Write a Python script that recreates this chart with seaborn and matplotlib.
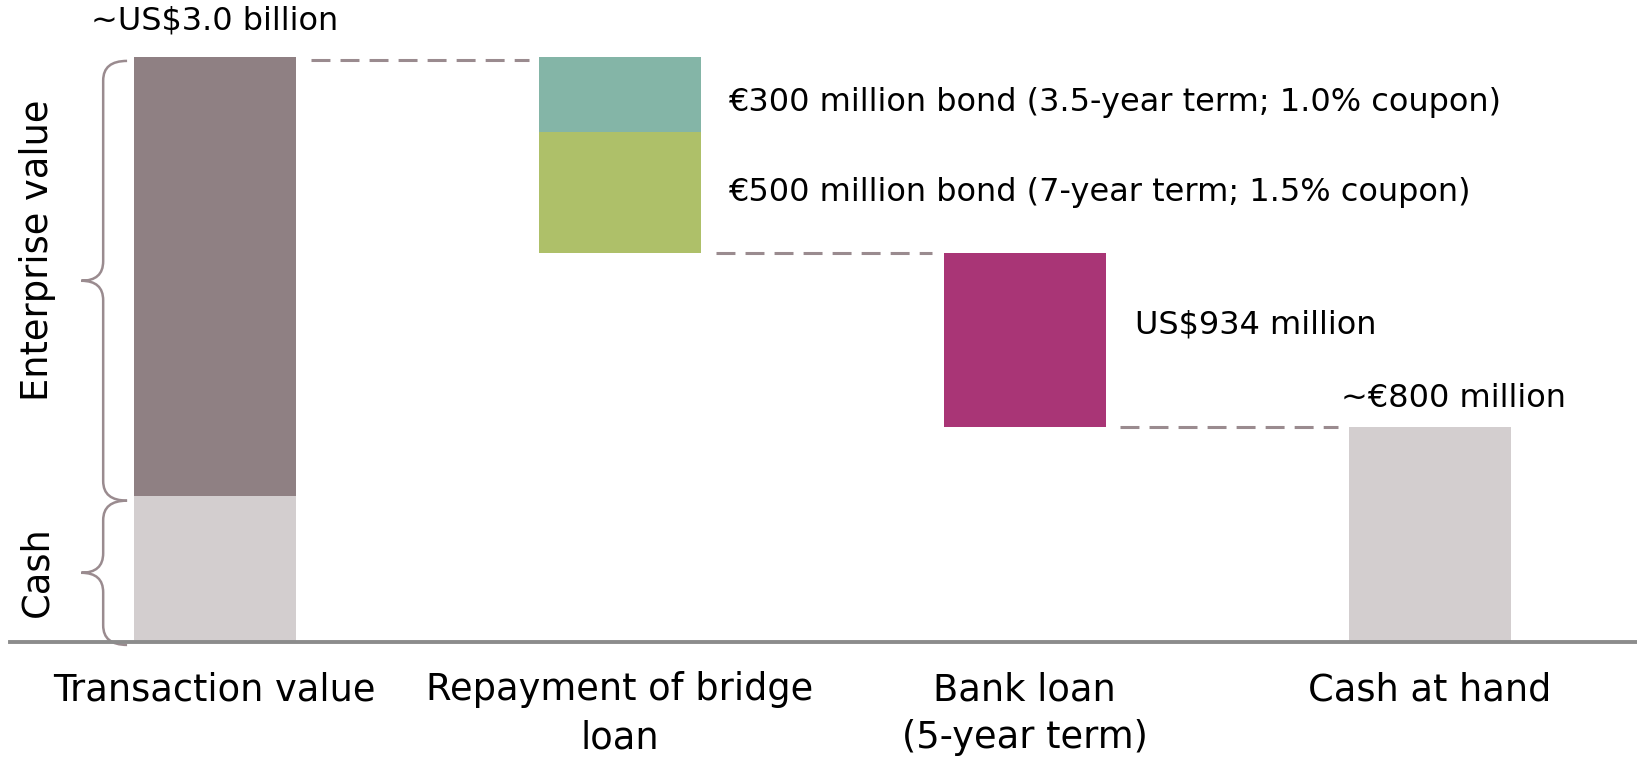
import matplotlib
matplotlib.use("Agg")
import matplotlib.pyplot as plt
from matplotlib.path import Path
from matplotlib.patches import PathPatch
import seaborn as sns
import pandas as pd

# ---------------- data ----------------
categories = ["Transaction value", "Repayment of bridge\nloan",
              "Bank loan\n(5-year term)", "Cash at hand"]
transaction_total = 3000     # ~US$3.0 billion (US$ m)
transaction_cash = 750       # cash part of transaction value
bond_300 = 385               # €300 million bond
bond_500 = 620               # €500 million bond
bank_loan = 890              # US$934 million
cash_at_hand = transaction_total - bond_300 - bond_500 - bank_loan  # ~€800 million

label_total = "~US$3.0 billion"
label_bond_300 = "€300 million bond (3.5-year term; 1.0% coupon)"
label_bond_500 = "€500 million bond (7-year term; 1.5% coupon)"
label_bank = "US$934 million"
label_cash = "~€800 million"
side_labels = ["Enterprise value", "Cash"]

# colours
c_ev = "#8f8083"
c_cash = "#d3cecf"
c_teal = "#84b5a7"
c_green = "#aec069"
c_magenta = "#a93576"
c_line = "#9a8b8f"

# ---------------- figure ----------------
sns.set_theme(style="white")
plt.rcParams["font.family"] = ["DejaVu Sans"]
plt.rcParams["text.color"] = "black"

W, H = 1637, 759
fig = plt.figure(figsize=(W / 100, H / 100), dpi=100)
ax = fig.add_axes([10 / W, (H - 642) / H, (W - 10) / W, 585 / H])

after_bonds = transaction_total - bond_300 - bond_500
segments = pd.DataFrame({
    "cat": [categories[0], categories[0], categories[1], categories[1], categories[2], categories[3]],
    "bottom": [0, transaction_cash, after_bonds, after_bonds + bond_500, cash_at_hand, 0],
    "height": [transaction_cash, transaction_total - transaction_cash, bond_500, bond_300, bank_loan, cash_at_hand],
    "color": [c_cash, c_ev, c_green, c_teal, c_magenta, c_cash],
})

for _, s in segments.iterrows():
    sns.barplot(x=[s["cat"]], y=[s["height"]], order=categories, bottom=s["bottom"],
                color=s["color"], saturation=1, width=0.4, errorbar=None, ax=ax,
                linewidth=0)

ax.set_xlim(-0.505, 3.511)
ax.set_ylim(0, transaction_total)
ax.set_yticks([])
ax.set_xlabel("")
ax.set_ylabel("")
for sp in ["left", "top", "right"]:
    ax.spines[sp].set_visible(False)
ax.spines["bottom"].set_color("#8c8c8c")
ax.spines["bottom"].set_linewidth(2.8)
ax.tick_params(axis="x", length=0, pad=21, labelsize=26.5, colors="black")
ax.set_xticks(range(len(categories)))
ax.set_xticklabels(categories, fontsize=26.5, linespacing=1.38, color="black")

# ---------------- dashed connectors ----------------
dash = dict(color=c_line, lw=2.2, linestyle=(0, (6.2, 3.3)), clip_on=False)
ax.plot([0.238, 0.776], [transaction_total - 15] * 2, **dash)
ax.plot([1.238, 1.771], [after_bonds] * 2, **dash)
ax.plot([2.234, 2.774], [cash_at_hand] * 2, **dash)

# ---------------- annotations ----------------
fs = 23
tk = dict(color="black", fontsize=fs)
ax.text(0, transaction_total + 185, label_total, ha="center", va="center", clip_on=False, **tk)
ax.text(1.267, after_bonds + bond_500 + bond_300 / 2 - 40, label_bond_300, ha="left", va="center", **tk)
ax.text(1.267, after_bonds + bond_500 / 2, label_bond_500, ha="left", va="center", **tk)
ax.text(2.271, cash_at_hand + bank_loan / 2 + 75, label_bank, ha="left", va="center", **tk)
ax.text(3.057, cash_at_hand + 146, label_cash, ha="center", va="center", **tk)

ax.text(-0.438, 2010, side_labels[0], rotation=90, ha="center", va="center", fontsize=26.5,
        color="black", clip_on=False)
ax.text(-0.438, 359, side_labels[1], rotation=90, ha="center", va="center", fontsize=26.5,
        color="black", clip_on=False)

# ---------------- braces ----------------
def brace(y0, y1, xe=-0.216, xs=-0.275, xt=-0.329, r=100):
    ym = (y0 + y1) / 2
    verts = [(xe, y1), (xs, y1), (xs, y1 - r), (xs, ym + r),
             (xs, ym), (xt, ym), (xs, ym), (xs, ym - r), (xs, y0 + r),
             (xs, y0), (xe, y0)]
    codes = [Path.MOVETO, Path.CURVE3, Path.CURVE3, Path.LINETO,
             Path.CURVE3, Path.CURVE3, Path.CURVE3, Path.CURVE3, Path.LINETO,
             Path.CURVE3, Path.CURVE3]
    ax.add_patch(PathPatch(Path(verts, codes), fill=False, edgecolor=c_line, lw=1.8, clip_on=False))

brace(transaction_cash - 25, transaction_total - 20)
brace(-15, transaction_cash - 25)

fig.savefig("out.png", dpi=100)
